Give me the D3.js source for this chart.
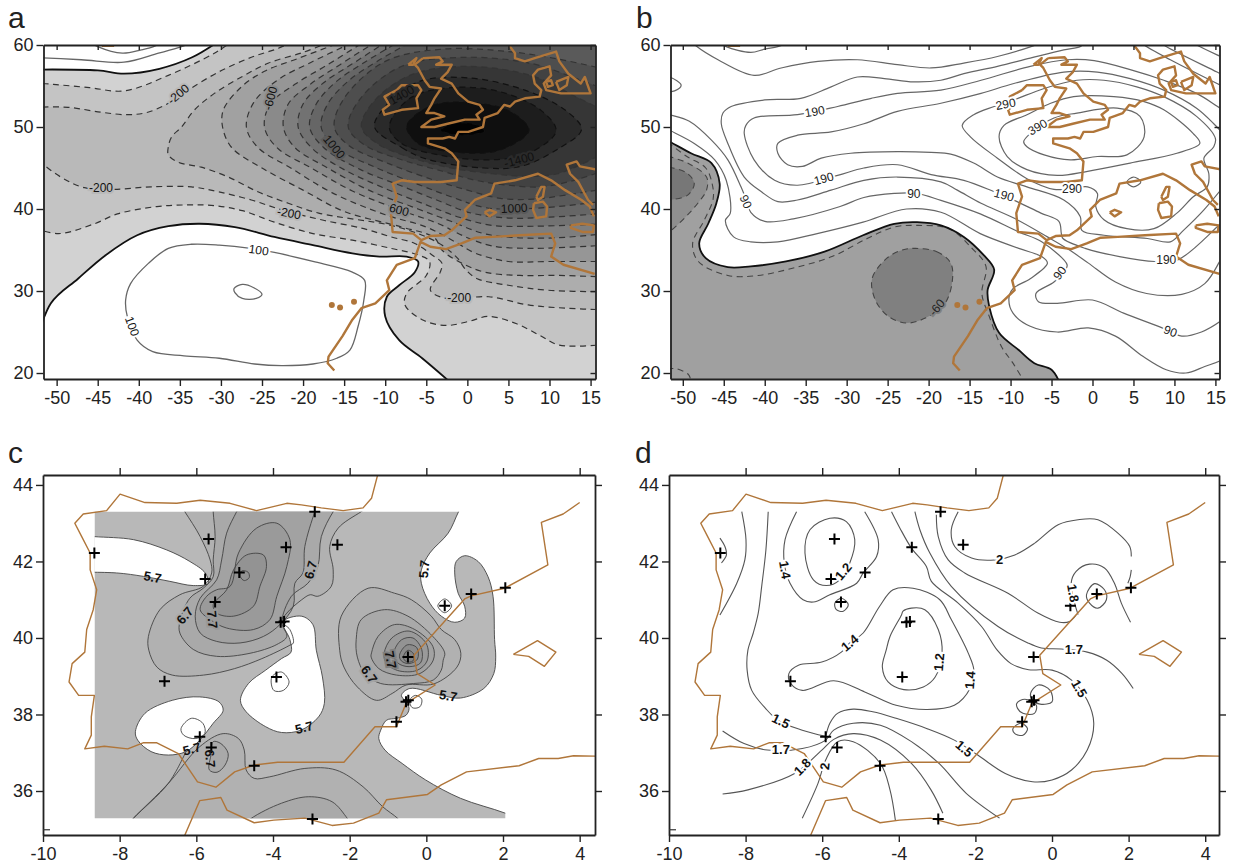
<!DOCTYPE html>
<html>
<head>
<meta charset="utf-8">
<script src="https://cdn.jsdelivr.net/npm/d3@7"></script>
<style>
html, body { margin: 0; background: #fff; }
svg text { font-family: "Liberation Sans", Arial, sans-serif; }
</style>
</head>
<body>
<div id="chart"></div>
<script>
// AXIS TICKS
const lonTicksWide = [-50,-45,-40,-35,-30,-25,-20,-15,-10,-5,0,5,10,15];
const latTicksWide = [20,30,40,50,60];
const lonTicksIberia = [-10,-8,-6,-4,-2,0,2,4];
const latTicksIberia = [36,38,40,42,44];

// COASTLINE, WIDE MAPS (LON, LAT)
const coastEurope = [[5.2,60.3],[5.2,59.8],[5.8,59],[5.8,58.4],[7,58],[8.2,58.4],[10.8,59.2],[11.2,58],[12.3,56.5],[13.8,55.3],[14.3,56.1],[15,54.1],[13.5,54.1],[11.4,54.1],[9.6,54.5],[9.3,55.3],[10.2,56.3],[10,57.4],[8.6,57],[8,56.3],[8.2,55.3],[9,54.5],[8.8,53.7],[7,53.5],[5.8,53.1],[5.2,52.5],[4.5,52.7],[3.7,51.7],[2.1,51.1],[1.9,50],[0.1,49.4],[-1.1,49.4],[-1.5,48.6],[-2.2,48.8],[-3,48.6],[-4.8,48.6],[-4.8,48],[-2.8,47.4],[-1.9,46.8],[-1.1,45.8],[-1.3,43.5],[-3.2,43.3],[-6.4,43.3],[-8,43.5],[-9.1,43.1],[-8.6,41.5],[-9.3,39.5],[-9.1,37.2],[-6.6,37],[-5.6,36.2],[-4.5,36.7],[-2.8,36.8],[-1.9,37.4],[-0.1,39.1],[-0.3,39.9],[0.9,41.1],[2.9,41.9],[3.3,43.1],[5.8,43.5],[8.6,44.3],[10.2,43.5],[11.9,42.3],[13.9,41.1],[14.9,40.3],[15.4,39.1]];
const coastBritain = [[-5.4,58.4],[-3.4,58.5],[-3,58],[-3.8,57.6],[-1.9,57.6],[-2.4,56.7],[-3.2,55.9],[-1.9,55.3],[-1.1,54.1],[0.1,53.1],[1.5,52.7],[1.9,52.1],[1.1,51.5],[1.5,50.9],[-0.3,50.9],[-2.4,50.4],[-4,50],[-5.6,50],[-4.4,50.9],[-2.8,51.3],[-4,51.7],[-5,51.7],[-4.4,52.7],[-4,53.5],[-3.2,54.7],[-4.6,54.9],[-5.2,55.7],[-6,57.2],[-6.4,57.6],[-5.4,58.4]];
const coastHebrides = [[-7.2,57.6],[-6.2,58.4],[-6.6,57.6],[-7.2,57.6]];
const coastIreland = [[-8.6,54.5],[-8,55.1],[-6,55.1],[-5.6,54.5],[-6.2,53.5],[-6,52.3],[-8,52.1],[-10.1,51.5],[-10.3,52.1],[-9.5,52.7],[-10.1,53.7],[-8.6,54.5]];
const coastAfrica = [[-16.2,20.3],[-17,21.2],[-16.9,22],[-15.2,24.5],[-14,26.5],[-12.9,27.9],[-11.2,28.5],[-9.5,30.1],[-9.8,31.3],[-8.6,33.2],[-6.4,34],[-5.7,36],[-4.5,35.4],[-2.6,35.1],[-0.7,35.8],[1,36.5],[3.1,36.6],[6.4,36.8],[10.2,37],[10.7,35.8],[10.2,34.2],[11.7,33.2],[15.5,32.1]];
const coastAdriatic = [[15.8,44.8],[13.7,45.2],[13.3,45.8],[12.1,45.4],[12.5,44.3],[13.5,43.3],[14.7,41.1],[15.3,40.5]];
const coastSicily = [[12.6,38],[14,38.2],[15.4,38],[15.3,37.2],[14,37.2],[12.6,37.7],[12.6,38]];
const coastCorsica = [[8.4,41.5],[9,42.7],[9.4,42.7],[9.2,41.5],[8.6,41.1],[8.4,41.5]];
const coastSardinia = [[8.1,40.7],[9.2,40.9],[9.7,40.3],[9.6,39.1],[8.4,38.9],[8,39.9],[8.1,40.7]];
const coastMallorca = [[2.1,39.6],[2.7,39.9],[3.5,39.6],[2.7,39.1],[2.1,39.6]];
const coastZealand = [[10.8,55.5],[12.3,56.1],[12.1,55.1],[11.2,54.5],[10.8,55.5]];
const coastFunen = [[9.6,55.5],[10.2,55.7],[10.4,55.1],[9.8,54.9],[9.6,55.5]];
const coastGreenland = [[-44.5,59.9],[-43,59.9]];
const coastCanaries = [[-16.5,28.3],[-15.5,28],[-13.8,28.7]];

// COASTLINE, IBERIA MAPS (LON, LAT)
const coastIberia = [[-1.26,44.3],[-1.43,43.65],[-1.65,43.4],[-2.17,43.33],[-2.74,43.4],[-3.26,43.48],[-3.64,43.52],[-4.43,43.33],[-5.12,43.52],[-5.9,43.6],[-6.51,43.52],[-7.34,43.54],[-7.99,43.76],[-8.34,43.33],[-8.95,43.24],[-9.17,43],[-8.99,42.65],[-8.77,42.22],[-8.77,41.78],[-8.6,41.26],[-8.69,40.74],[-8.86,40.22],[-8.91,39.63],[-9.24,39.33],[-9.32,38.85],[-9.07,38.5],[-8.66,38.5],[-8.74,37.94],[-8.74,37.46],[-8.91,37.1],[-8.4,37.17],[-7.79,37.1],[-7.39,37.26],[-7.03,37.26],[-6.47,36.98],[-5.97,36.24],[-5.49,36.1],[-5,36.5],[-4.49,36.68],[-3.88,36.75],[-2.15,36.75],[-1.34,37.68],[-0.78,37.68],[-0.53,38.29],[0.23,38.77],[-0.24,39.07],[-0.32,39.55],[1,41.02],[1.17,41.1],[2.04,41.3],[3.17,41.91],[3,43.02],[3.57,43.24],[4,43.54]];
const coastMaghreb = [[-6.32,34.8],[-5.91,35.75],[-5.36,35.83],[-5.2,35.5],[-4.49,35.17],[-3.98,35.24],[-3.17,35.29],[-2.46,35.1],[-1.9,35.16],[-1.24,35.42],[-1.04,35.77],[0.03,35.91],[0.39,36.16],[1.05,36.5],[2.42,36.66],[2.93,36.85],[3.44,36.85],[3.84,36.92],[4.5,36.91]];
const coastBalearic = [[2.27,39.57],[2.67,39.52],[3.08,39.26],[3.38,39.63],[2.9,39.93],[2.27,39.57]];

// STATIONS (LON, LAT)
const stations = [[-8.66,42.22],[-5.68,42.59],[-5.77,41.54],[-3.66,42.37],[-4.88,41.71],[-5.51,40.94],[-3.8,40.41],[-3.71,40.43],[-2.91,43.3],[-2.32,42.44],[1.17,41.15],[2.06,41.31],[0.48,40.84],[-0.48,39.5],[-3.91,38.98],[-6.83,38.87],[-0.53,38.33],[-0.47,38.37],[-0.78,37.81],[-5.91,37.42],[-5.61,37.14],[-4.49,36.66],[-2.97,35.27]];

// PANEL A CONTOURS
const a0Up = [[-53,57],[-45,56.9],[-41.8,56.5],[-37.5,57.1],[-33.5,58.5],[-30.5,60.3]];
const a0Low = [[-2,18.8],[-5.5,21.8],[-8.3,24],[-10,26.9],[-9.8,29.3],[-8.3,30.7],[-6.4,32.3],[-6,33.6],[-7.4,34.2],[-10.7,34.2],[-14,34.6],[-18.8,35.6],[-23.5,36.6],[-28.3,37.8],[-32.6,38.2],[-36.4,37.9],[-40.2,36.8],[-44,34.4],[-47.4,31.5],[-50.7,28.5],[-53,22]];
const aPosTop1 = [[-53,58.5],[-47,58.2],[-41.8,57.9],[-37.6,59],[-34.8,59.8],[-33,60.5]];
const aPosTop2 = [[-46,60.4],[-45,59.8],[-42,59],[-39.7,59.4],[-38.2,59.8],[-37,60.4]];
const a100Low = [[17,23.5],[11.2,23.4],[8.8,24.6],[6,26],[2.6,26.9],[0.2,26.3],[-2.6,25.8],[-5.5,26.5],[-7.6,28.3],[-7.4,29.7],[-5,31.9],[-4.6,33.6],[-6,34.4],[-9.3,35.2],[-14,36.2],[-18.8,37],[-23.5,38.4],[-27.4,39.8],[-30.7,40.4],[-34,40.5],[-37.8,40.3],[-42.6,39.4],[-45.4,38.2],[-49.8,37],[-53,37.8]];
const a100Up = [[-53,55.4],[-50.4,55.2],[-46,54.8],[-41.8,54.4],[-36.4,56.3],[-30.8,59],[-28.8,60.3]];
const a200Low = [[17,27.7],[12.1,27.9],[7.4,28.3],[2.6,29.3],[-2.6,29.1],[-4.5,30.1],[-3.3,32.3],[-3.1,33.4],[-4.3,34.4],[-6.4,35.8],[-9.3,36.6],[-12.6,37.6],[-17.4,38.6],[-22.3,39.8],[-26.3,41.1],[-30.3,42.1],[-33.6,42.7],[-38.5,42.7],[-43,42.4],[-46.6,42.6],[-49.5,43.9],[-53,46.5]];
const a200Up = [[-53,52.4],[-48.6,52.4],[-44.6,51.8],[-41.3,51.5],[-38.9,51.8],[-36.4,52.9],[-34,54.5],[-30.3,56.7],[-26.3,58.5],[-23,59.6],[-21.5,60.3]];
const a300 = [[17,29.9],[9.8,30.1],[5,30.7],[1.2,31.5],[-0.2,32.6],[-1.2,34],[-3.1,35.6],[-5.5,36.8],[-9.3,38],[-18.1,39.5],[-21.8,40.7],[-25.5,42.1],[-29.1,43.9],[-32.4,45.1],[-35.2,45.7],[-36.4,46.6],[-36.4,47.6],[-36,48.8],[-34.8,50],[-33.2,52.1],[-30.8,54.1],[-27.5,56.1],[-24.2,57.8],[-20,59.1],[-16.9,60.3]];
const a400 = [[17,31.7],[11.2,31.9],[6.4,31.9],[2.1,32.3],[-0.7,33.4],[-3.1,35],[-4,36.5],[-8,37.8],[-15,39.7],[-20,42.3],[-25,45],[-28.7,47.5],[-29.8,50],[-29.7,52.1],[-27.5,54.9],[-24.7,56.8],[-20.5,58.4],[-15.5,60.3]];
const a500 = [[17,33.6],[10,33.6],[5,33.6],[1,34.6],[-1.5,36],[-5,37.8],[-10,39.3],[-16.5,42],[-21.5,45],[-25.5,47.5],[-26.9,50],[-26,53],[-23,55.8],[-19,57.9],[-14,60.3]];
const a600 = [[17,35.6],[8,35.2],[3,35.5],[0,36.5],[-3.5,38.2],[-8,39.8],[-14,42.2],[-19,45],[-23.2,47.5],[-24.7,50],[-24,52.8],[-21,55.2],[-17,57.6],[-12.7,60.3]];
const a700 = [[17,37],[11,36.5],[6,36.5],[2,37],[-2,38.5],[-6,40],[-12,42.3],[-17,45],[-21,47.5],[-22.4,50],[-21.8,52.8],[-19,55.3],[-15.5,57.6],[-11.3,60.3]];
const a800 = [[17,38.2],[8,37.9],[3,38],[-1,39],[-5,40.5],[-10,42.5],[-15,44.8],[-19,47.5],[-20.6,50],[-20,52.8],[-17.5,55.4],[-14,57.7],[-10,60.3]];
const a900 = [[17,39.5],[10,39],[5,38.9],[0.5,39.5],[-3.5,41],[-8,42.8],[-13,44.8],[-17.5,47.5],[-19.2,50],[-18.4,52.8],[-16,55.5],[-12.5,57.9],[-8.5,60.3]];
const a1000 = [[17,41],[11,40.3],[6,40],[2,40.2],[-2,41.5],[-6,43],[-11,45],[-16,47.5],[-17.8,50],[-17,52.8],[-14.5,55.6],[-11,58],[-7,60.3]];
const a1100 = [[17,42.5],[12,41.7],[8,41.2],[4,41.3],[0,42.3],[-4,43.5],[-9.5,45.5],[-14.5,47.8],[-16.2,50],[-15,53.5],[-10,58],[-3,59.5],[5,59.2],[11,58.3],[17,57]];
const a1200 = [[17,44.8],[13,43.5],[9,42.7],[5,42.9],[1,43.5],[-3,44.6],[-8,46],[-12.5,47.8],[-14.5,50],[-13,53.5],[-8,57.4],[0,58.5],[8,57.7],[13,56],[17,54.5]];
const a1300 = [[17,47],[11,44.3],[7,44],[3,44.3],[-2,45],[-7,46.3],[-11,48],[-12.9,50],[-11.5,53],[-7,56.3],[0,57.4],[8,56.2],[13,53.8],[17,51.8]];
const a1400 = [[-11.3,50],[-8,47.5],[-5,46.1],[2,45],[6.5,45.2],[11,47.3],[13.9,49.7],[12,52],[7,54.5],[0,56],[-6,55.5],[-10,52.5]];
const a1500 = [[-9.5,50],[-8,48],[-3,46.5],[3,46],[7.5,46.8],[10.8,49.5],[9,52],[4,54.3],[-2,54.8],[-7,53.5]];
const a1600 = [[-7.4,50],[-6,48],[-1,46.9],[4,47.2],[7.5,49.6],[5,52],[0,53],[-4,52.7],[-6.5,51.3]];
const a1700 = [[-3.2,49.6],[-0.5,49],[2.1,49.5],[1,50.3],[-2,50.4]];
const a100Pos = [[-26.4,35.2],[-30.2,35.6],[-33.6,35.7],[-36.4,35.2],[-38.8,33.4],[-41,30.9],[-41.6,28.9],[-41.4,26.9],[-40.2,24],[-38.3,22.6],[-34.5,22.1],[-30.2,21.8],[-25.9,21.1],[-22.6,20.9],[-18.8,21.1],[-15.9,21.8],[-14.3,22.8],[-13.3,25.7],[-12.6,28.9],[-12.5,31.3],[-14,32.3],[-18.8,33.6],[-23.5,34.7]];
const a100Inner = [[-28.4,30.3],[-27.4,30.8],[-26,30.4],[-25,29.6],[-25.7,29.1],[-27.4,29.1],[-28.3,29.8]];
const aLevels = [-100,-200,-300,-400,-500,-600,-700,-800,-900,-1000,-1100,-1200,-1300,-1400,-1500,-1600,-1700];
const labelsA = [["-200",-35.2,54,-40],["-600",-24,53.5,-75],["-200",-44.6,42.6,0],["-200",-21.7,39.5,10],["1000",-16.2,47.6,50],["1400",-8,53.9,-30],["-1400",6.3,46,-15],["600",-8.3,39.9,15],["1000",5.7,40.1,-3],["-200",-1,29.2,0],["100",-25.4,35,8],["100",-40.8,25.7,70]];
const labelLevelsA = [-200,-600,-200,-200,-1000,-1400,-1400,-600,-1000,-200,0,0];

// PANEL B CONTOURS
const b0 = [[-53,48.9],[-51.6,48.2],[-49,46.8],[-46.5,45.6],[-45.5,43.1],[-45.9,40.7],[-46.9,38.2],[-48,35.8],[-47.2,34],[-44.5,32.9],[-41.7,33],[-37.4,33.6],[-32.7,34.8],[-28,36.8],[-24.2,38.2],[-21.4,38.4],[-18.5,38],[-15.7,36.6],[-13.3,34.4],[-12,32.6],[-12.8,30.1],[-12.6,28.1],[-11.4,24.9],[-9,22.8],[-7.1,21.2],[-5,20.4],[-4,18.8]];
const bDash0 = [[-53,48.7],[-51.6,47.9],[-49.5,46.4],[-47.2,45],[-46.4,43],[-46.3,41.2],[-47.4,38.6],[-48.8,35.8],[-48.1,33.6],[-44.5,31.9],[-40.8,31.9],[-36.5,32.8],[-31.8,34.2],[-27.5,36.4],[-24.2,37.8],[-21.3,38],[-17.5,37.6],[-14.7,35.2],[-13,33],[-13.5,29.7],[-12.6,26.9],[-11.1,23.2],[-9.7,21.2],[-8.3,18.9]];
const bCorner1 = [[-53,47],[-51.6,46.4],[-49.4,45.6],[-47.1,43.9],[-47.1,42.3],[-47.9,41.05],[-49.3,39.4],[-51.4,37.4],[-53,36.2]];
const bCorner2 = [[-53,45.2],[-51.2,45],[-49.4,44.3],[-48.6,43.1],[-49.4,41.7],[-51.6,41.1],[-53,41]];
const bCorner3 = [[-51.9,20.5],[-50.7,20.5],[-49.3,19.8],[-49,19]];
const bBlob60 = [[-21.6,35.2],[-19,34.8],[-17.3,33.4],[-17.1,31.3],[-18,28.5],[-20.4,26.7],[-22.7,26.1],[-24.9,26.9],[-26.5,28.9],[-26.9,31.5],[-25.1,34],[-23.2,35]];
const bTop = [[-48.8,60.3],[-48.4,59.9],[-45.7,58.2],[-41.3,56.3],[-38,57.2],[-33.5,58],[-28.7,58.2],[-23.8,57.6],[-19.7,57.2],[-15.7,57.8],[-11.6,58.6],[-7.5,59.8],[-6,60.4]];
const bM1 = [[6,60.3],[6.3,60],[9.5,58.2],[15.2,55.3],[17,54.4]];
const bM1a = [[-1,60.2],[-1.5,59.8],[-3.5,59.4],[-7.6,58.4],[-11.6,57.4],[-15.7,56.5],[-18.5,55.7],[-21.8,55.5],[-25.4,55.9],[-28.7,56.1],[-31.9,54.9],[-35.6,53.5],[-40,53.3],[-44.1,52.5],[-45.1,51.7],[-45.3,50.4],[-44.5,48],[-42.5,43.9],[-40.4,42.1],[-38.4,40.9],[-36,41.1],[-31.9,42.3],[-27.9,43.5],[-23.8,43.9],[-18.5,43.3],[-16.5,42.3],[-13.6,40.7],[-9.6,38.9],[-5.5,36.6],[-2.8,35],[-0.5,33.4],[2.8,31.1],[6.6,29.7],[10.9,29.6],[13.7,30.9],[15.4,33.4],[16.5,36]];
const bM2 = [[17,51.5],[15.6,52.3],[12.7,54.1],[8.7,55.7],[4.6,57],[0.2,58.1],[-3.1,58.2],[-7.6,57.4],[-13.6,55.7],[-18.5,54.5],[-23.8,54.1],[-27,53.5],[-31.1,52.5],[-36,51.5],[-41.3,51.1],[-42.3,50.2],[-42.5,49.2],[-41.3,46],[-38.8,43.5],[-36,42.9],[-31.1,44.1],[-27.9,45],[-23.8,45.4],[-19.7,44.2],[-15.7,43.5],[-12,42.1],[-9.2,40.9],[-6.3,39.5],[-4.1,38.5],[-3.8,37],[-3.6,36.4],[-0.9,35.2],[3.3,34.2],[7.6,33.6],[10.4,33.8],[15.2,37.8],[17,39.5]];
const bM3 = [[17,48],[14.8,50.4],[12.7,52.3],[8.7,54.5],[4.6,55.9],[0.6,56.7],[-3.5,56.7],[-9.6,55.3],[-13.6,54.1],[-18.5,52.9],[-23.8,51.9],[-27.9,50.4],[-31.9,49.4],[-36,49],[-38.4,48],[-38.4,46.8],[-37.2,45.4],[-35.4,45.2],[-33.1,46.2],[-29.5,46.8],[-23.8,47],[-19.7,46.9],[-17.3,46.7],[-14.5,45.6],[-11.6,43.9],[-8,42.7],[-3.5,41.1],[-1.5,39.1],[-1.3,37.4],[1.4,36.8],[6.7,36.4],[9.5,36],[11.1,37.4],[13.6,39.9],[17,44]];
const bL1 = [[-53,50.3],[-51.6,49.6],[-48.6,48],[-46.1,46],[-44.7,43.5],[-44.2,39.5],[-44.8,38.6],[-43.8,36.6],[-41.7,36],[-38.4,36],[-33.6,37],[-28,38.4],[-22.7,40],[-18.5,39.6],[-13.7,37],[-9,35.2],[-6.2,34.2],[-5.5,33.4],[-7.6,31.5],[-9.7,30.3],[-10.2,29.1],[-9.7,27.3],[-7.6,25.7],[-4.3,25],[-0.5,25.5],[2.8,24.5],[6.2,22],[9,20.4],[11.4,20],[13.7,20.8],[15.6,21.5],[17,22.5]];
const bL2 = [[-53,51.9],[-51.6,51.5],[-49.2,50.7],[-46.5,48.4],[-44.5,46],[-42.9,42.7],[-42.1,40.7],[-41.7,39.6],[-40,38.5],[-36.5,38.8],[-30.8,40.3],[-27.9,41.4],[-24.2,41.9],[-21.5,41.9],[-18.5,41.05],[-13.7,39.4],[-9,37.2],[-6.2,36],[-3.1,33.2],[-3.3,32.6],[-4.7,31.1],[-6.9,29.7],[-6.6,28.7],[-4.3,28.5],[0,28.9],[3.8,27.3],[8.5,25.5],[10.9,24.5],[13.3,25],[15.6,26.3],[17,27.5]];
const bLoopC = [[-15.9,50.2],[-14.5,51.5],[-12,52.5],[-9.6,53.3],[-5.9,54.7],[-1.9,55.7],[1.4,55.7],[5.4,54.9],[8.7,53.7],[12.7,51.3],[15,48.6],[14.8,47.6],[13.6,46.2],[14.2,44.3],[14,42.7],[12.3,41.5],[10.3,39.5],[7.5,37.6],[4.2,37.6],[1.4,38.7],[0.4,40.3],[0.6,41.9],[-0.6,42.7],[-2.5,42.5],[-4.7,42.4],[-8,43.7],[-11.6,46.2],[-14.9,48.8]];
const bLoopB = [[-11.4,48.8],[-10.8,50.2],[-8,51.5],[-5.1,52.9],[-2.3,53.7],[2.6,53.7],[6.3,53.1],[8.7,52.1],[12.3,49.2],[13.1,48],[10.3,46.8],[4.6,45.6],[-0.6,44.6],[-4.3,44.1],[-8,44.8],[-10.4,46.4]];
const bLoopA = [[-8.4,48.2],[-7.6,49.2],[-4.7,51.1],[-1.9,51.7],[3,52.3],[5.8,51.3],[6.3,48.8],[4.2,46.6],[0.6,46.4],[-2.7,46],[-5.9,46.6],[-8,47.6]];
const bLoopSmall = [[4.2,43.3],[5,43.9],[5.9,43.3],[5,42.7]];
const bEdgeLoop = [[-53,56.3],[-51.6,56.1],[-50.2,55.1],[-51,54.4],[-53,54.3]];
const bTopBit = [[-45.5,60.3],[-44.7,59.8],[-41.7,59.1],[-40,59.5],[-38.4,59.8],[-37,60.3]];
const bRight1 = [[8.4,60.3],[8.7,60],[15.2,56.7],[17,55.8]];
const bRight2 = [[12.2,60.3],[12.7,60],[15.2,58.8],[17,58]];
const labelsB = [["190",-33.9,51.9,-10],["190",-32.8,43.7,-15],["90",-42.3,40.9,65],["90",-21.8,41.8,0],["290",-10.6,52.8,-10],["390",-6.7,50,-30],["290",-2.5,42.5,0],["190",-10.8,41.7,15],["190",9,33.8,0],["90",-4,32.2,-55],["90",9.5,25.1,20],["-60",-19,28,-50]];

// PANEL C CONTOURS
const cOuter = [[1.05,43.7],[0.84,43.3],[0.57,42.74],[0.09,42.22],[-0.13,41.78],[-0.13,41.43],[0.09,40.91],[0.39,40.57],[0.74,40.41],[1,40.52],[1,40.83],[0.83,41.17],[0.74,41.7],[0.78,42],[1,42.15],[1.35,42],[1.61,41.6],[1.74,41.09],[1.78,39.96],[1.81,39.5],[1.76,39.07],[1.5,38.68],[0.89,38.43],[0.39,38.5],[-0.43,38.68],[-0.65,38.5],[-0.53,38.33],[-0.45,38.16],[-0.53,37.98],[-0.78,37.9],[-1.04,37.85],[-1.19,37.59],[-1.24,37.37],[-1.08,37.07],[-0.63,36.72],[-0.02,36.29],[0.89,35.81],[2.06,35.42],[2.8,35.1]];
const cHoleNorth = [[-9.2,42.7],[-8.66,42.65],[-7.64,42.57],[-6.77,42.3],[-6.17,42],[-5.77,41.7],[-5.69,41.43],[-6.08,41.37],[-6.69,41.48],[-7.38,41.61],[-8.08,41.7],[-9.2,41.72]];
const cHoleCentre = [[-3.74,40.42],[-3.26,40.57],[-2.96,40.35],[-2.87,39.68],[-2.71,38.98],[-2.66,38.29],[-2.81,37.94],[-3.27,37.59],[-3.78,37.53],[-4.19,37.68],[-4.7,38.07],[-4.85,38.37],[-4.64,38.81],[-4.19,39.16],[-3.78,39.46],[-3.53,39.63],[-3.56,39.96]];
const cHoleSouth = [[-7.59,37.55],[-7.34,38.03],[-6.63,38.37],[-5.91,38.46],[-5.41,38.33],[-5.3,38.11],[-5.56,37.77],[-5.91,37.33],[-6.27,37.03],[-6.73,36.94],[-7.18,37.03],[-7.53,37.33]];
const cDiagonal = [[-6.27,37.03],[-6.73,36.2],[-7.64,35.29],[-8,34.9]];
const cA1 = [[-6.5,43.6],[-6.3,43.3],[-5.9,42.65],[-5.64,42.04],[-5.6,41.7],[-5.82,41.35],[-6.43,41.13],[-6.95,40.74],[-7.25,40.04],[-7.24,39.68],[-7.03,39.24],[-6.63,39.03],[-5.81,39.03],[-5,39.2],[-4.29,39.46],[-3.58,39.8],[-3.47,39.87],[-3.56,40.22],[-3.77,40.43],[-3.64,40.65],[-3.25,41],[-3.03,41.13],[-2.83,41.09],[-2.48,41.35],[-2.43,41.78],[-2.52,42.39],[-2.3,42.87],[-1.7,43.3],[-1.2,43.6]];
const cA2 = [[-5.56,43.6],[-5.56,43.3],[-5.51,42.65],[-5.56,42.04],[-5.56,41.6],[-5.82,41.3],[-6.17,41.04],[-6.43,40.43],[-6.43,40.13],[-6.08,39.7],[-5.47,39.52],[-4.6,39.6],[-3.9,39.83],[-3.64,40.04],[-3.77,40.4],[-3.52,41.09],[-3.09,41.43],[-2.83,41.87],[-2.74,42.65],[-2.43,43.3],[-2.2,43.6]];
const cA3 = [[-4.8,43.6],[-4.95,43.3],[-5.21,42.74],[-5.34,42.04],[-5.47,41.52],[-5.9,41.04],[-6.03,40.57],[-5.9,40.13],[-5.47,39.91],[-4.86,39.87],[-4.25,40.04],[-3.82,40.35],[-3.47,40.83],[-3.43,41.43],[-3.22,41.7],[-3.17,42.39],[-2.91,43.3],[-2.8,43.6]];
const cA4 = [[-5.12,41.35],[-4.9,42.22],[-4.43,42.87],[-3.9,43],[-3.56,42.57],[-3.64,41.87],[-3.9,41.09],[-4.08,40.48],[-4.51,40.22],[-5.21,40.26],[-5.64,40.48],[-5.9,40.74],[-5.73,41.09],[-5.47,41.26]];
const cA5 = [[-4.69,42.17],[-4.25,42.17],[-4.17,41.87],[-4.34,41.35],[-4.51,40.83],[-5.03,40.57],[-5.47,40.65],[-5.56,40.87],[-5.21,41.26],[-5.03,41.78]];
const cA6 = [[-4.82,41.75],[-4.65,41.72],[-4.62,41.58],[-4.75,41.5],[-4.85,41.6]];
const cB1 = [[-1.52,41.3],[-2.22,40.57],[-2.26,39.68],[-2.15,39.24],[-1.8,38.72],[-1.3,38.37],[-0.89,38.55],[-0.53,38.77],[0.2,38.8],[0.8,39.24],[0.9,39.6],[0.74,39.96],[0.39,40.22],[0.13,40.57],[-0.39,41],[-0.83,41.17]];
const cB2 = [[-1.83,39.96],[-1.7,40.48],[-1.09,40.74],[-0.48,40.57],[0.17,40.04],[0.48,39.61],[0.44,39.42],[0.39,39.16],[0.18,38.9],[-0.33,38.81],[-1.19,38.81],[-1.6,39.07],[-1.8,39.5]];
const cB3 = [[-1.43,39.61],[-1.26,40.04],[-0.83,40.35],[-0.3,40.22],[0.17,39.78],[0.18,39.42],[-0.17,39.07],[-0.78,39.03],[-1.24,39.2],[-1.44,39.5]];
const cB4 = [[-1.1,39.6],[-0.9,40],[-0.45,40.18],[0,39.85],[0.02,39.4],[-0.25,39.15],[-0.75,39.15],[-1.05,39.35]];
const cB5 = [[-0.85,39.6],[-0.65,39.95],[-0.35,40],[-0.12,39.7],[-0.15,39.35],[-0.45,39.25],[-0.75,39.35]];
const cB6 = [[-0.7,39.55],[-0.5,39.82],[-0.25,39.75],[-0.23,39.45],[-0.45,39.33],[-0.65,39.4]];
const cB7 = [[-0.6,39.5],[-0.48,39.68],[-0.33,39.58],[-0.35,39.4],[-0.52,39.38]];
const cSouth1 = [[-8,34.9],[-7.64,35.29],[-6.73,36.2],[-5.91,37.16],[-5.3,37.5],[-4.9,37.37],[-4.75,37.07],[-4.7,36.55],[-4.49,36.33],[-4.09,36.37],[-3.17,36.59],[-2.36,36.55],[-1.65,36.11],[-1.14,35.59],[-0.73,35.27],[-0.4,34.9]];
const cSouth2 = [[-5,34.9],[-4.59,35.27],[-3.78,35.68],[-3.07,35.85],[-2.46,35.72],[-2.05,35.27],[-1.8,34.9]];
const cSouth3 = [[-5.56,37.29],[-5.36,37.24],[-5.17,36.98],[-5.25,36.68],[-5.46,36.49],[-5.66,36.55],[-5.61,36.98]];
const cRingSouth = [[-6.4,37.63],[-6.13,37.9],[-5.83,37.77],[-5.78,37.5],[-6.03,37.37],[-6.33,37.46]];
const cRingCentre = [[-4.03,38.98],[-3.78,39.11],[-3.58,38.85],[-3.73,38.63],[-3.98,38.63]];
const cRingEast = [[0.3,40.84],[0.48,41.02],[0.66,40.84],[0.48,40.66]];
const cRingCoast = [[-0.43,38.38],[-0.28,38.5],[-0.12,38.4],[-0.17,38.2],[-0.37,38.18]];
const labelsC = [["5.7",-7.14,41.59,10],["6.7",-6.3,40.59,-50],["7.7",-5.58,40.48,85],["6.7",-3.02,41.78,-75],["5.7",-0.06,41.8,-85],["6.7",-1.49,39.05,55],["7.7",-0.93,39.43,80],["5.7",-3.19,37.66,-15],["5.7",0.57,38.49,10],["5.7",-6.12,37.1,-15],["6.7",-5.64,36.85,85]];

// PANEL D CONTOURS
const dWest1 = [[-8.67,42.61],[-8.54,42.39],[-8.5,42.17],[-8.63,41.96]];
const dWest2 = [[-8.1,43.3],[-7.99,42.57],[-8.02,42.04],[-8.23,41.43],[-8.67,40.6]];
const dWest3 = [[-7.41,43.3],[-7.47,42.3],[-7.58,41.35],[-7.67,40.65],[-7.8,40.13],[-7.94,39.68],[-7.96,39.16],[-7.84,38.63],[-7.48,38.16],[-7.13,37.83],[-6.52,37.59],[-5.91,37.43]];
const dNorth14 = [[-6.67,43.3],[-6.97,42.57],[-6.99,41.96],[-6.84,41.43],[-6.5,41],[-6.23,40.94],[-5.8,41.13],[-5.1,41.43],[-4.93,41.7],[-4.58,42.13],[-4.54,42.57],[-4.89,43.3]];
const dNorth12 = [[-5.8,43.13],[-5.37,43.04],[-5.15,42.57],[-5.28,41.96],[-5.54,41.52],[-5.89,41.37],[-6.23,41.52],[-6.45,42.22],[-6.32,42.83]];
const dRingNorth = [[-5.67,40.91],[-5.5,41.04],[-5.32,40.87],[-5.45,40.7],[-5.63,40.74]];
const dCentre12 = [[-3.89,40.7],[-3.67,40.78],[-3.32,40.74],[-2.97,40.22],[-2.87,39.6],[-3.05,38.98],[-3.36,38.72],[-3.87,38.65],[-4.28,38.85],[-4.43,39.24],[-4.33,39.68],[-4.23,40.04],[-3.93,40.6]];
const dCentre14 = [[-6.87,39.07],[-6.62,39.29],[-6.01,39.37],[-5.5,39.63],[-5.28,39.87],[-4.93,40.13],[-4.5,40.83],[-4.15,41.26],[-3.63,41.3],[-2.93,41],[-2.63,40.48],[-2.19,39.61],[-2.04,39.16],[-2.14,38.68],[-2.55,38.24],[-3.26,38.13],[-4.07,38.24],[-4.89,38.59],[-5.7,38.88],[-6.52,38.63],[-6.82,38.81]];
const dLineA = [[-3.02,43.22],[-2.97,42.65],[-2.71,42.04],[-2.28,41.7],[-1.15,41.17],[-0.37,40.65],[0.2,40.41],[0.46,40.43],[0.63,40.6]];
const dLineB = [[-3.58,43.3],[-3.45,42.83],[-3.19,42.22],[-2.63,41.35],[-1.41,40.3],[-0.63,39.87],[-0.28,39.74],[0.24,39.71],[0.92,39.63],[1.43,39.42],[1.83,39.07],[2.12,38.68]];
const dLineC = [[-4.19,43.3],[-3.97,42.87],[-3.67,42.35],[-3.28,41.87],[-3.15,41.48],[-2.45,40.91],[-1.84,40.3],[-1.43,39.68],[-1.07,39.33],[-0.61,39.17],[0,39.16],[0.51,38.9],[0.92,38.37],[1.09,37.77],[0.92,37.07],[0.51,36.55],[0,36.29],[-0.51,36.24],[-1.22,36.46],[-1.94,36.94],[-2.55,37.33],[-3.26,37.63],[-4.07,37.9],[-4.68,38.07],[-5.19,38.14],[-5.6,38.03],[-5.8,37.77],[-5.91,37.42]];
const dSouth17 = [[-8.6,37.57],[-8.04,37.24],[-7.43,37.07],[-6.52,37.11],[-5.91,37.33],[-5.7,37.59],[-5.19,37.77],[-4.48,37.72],[-3.67,37.29],[-2.95,36.72],[-2.24,35.94],[-1.37,35.29]];
const dSouth18 = [[-8.6,35.92],[-7.94,36.03],[-6.72,36.46],[-6.01,37.07],[-5.7,37.35],[-5.19,37.5],[-4.48,37.33],[-3.67,36.72],[-3.16,36.03],[-2.85,35.42]];
const dSouth2 = [[-6.52,35.29],[-6.11,36.2],[-5.91,36.81],[-5.6,37.29],[-5.19,37.29],[-4.48,36.72],[-4.23,36.03],[-4.09,35.24]];
const dEast2 = [[-2.45,43.3],[-2.63,42.83],[-2.54,42.39],[-2.1,42.09],[-1.5,42.04],[-0.97,42.17],[-0.45,42.48],[0.16,42.96],[0.68,43.09],[1.2,43.09],[1.72,42.74],[2.03,42.39],[2.07,42.13]];
const dEast2b = [[2.07,41.78],[2.04,41.6],[1.98,41.43]];
const dEast18 = [[0.68,40.61],[0.5,41.43],[0.63,41.74],[0.98,41.93],[1.37,41.83],[1.63,41.43],[1.81,40.91],[2.05,40.41]];
const dRingEast = [[0.9,41.13],[1.11,41.42],[1.37,41.26],[1.42,41],[1.2,40.78],[0.98,40.91]];
const dPetalA = [[-0.56,38.55],[-0.36,38.77],[-0.05,38.63],[0,38.33],[-0.31,38.27],[-0.51,38.37]];
const dPetalB = [[-0.92,38.29],[-0.71,38.4],[-0.41,38.24],[-0.46,38.03],[-0.76,38.03],[-0.9,38.16]];
const dPetalC = [[-1.02,37.63],[-0.81,37.77],[-0.64,37.63],[-0.76,37.46],[-0.97,37.5]];
const labelsD = [["1.4",-6.97,41.78,80],["1.2",-5.45,41.74,-50],["1.4",-5.28,39.87,-40],["2",-1.37,42.06,0],["1.8",0.55,41.17,80],["1.7",0.57,39.7,0],["1.2",-2.95,39.37,-85],["1.4",-2.14,38.9,-85],["1.5",0.71,38.68,60],["1.5",-7.08,37.83,25],["1.7",-7.08,37.09,0],["1.8",-6.52,36.63,-45],["2",-5.93,36.65,-85],["1.5",-2.29,37.11,40]];

// PANEL LAYOUT
const panels = {
   a: { left: 43.5, right: 595.5, top: 45, bottom: 379, lon: [-51.6, 15.6], lat: [19.27, 60] },
   b: { left: 670.5, right: 1219.5, top: 45, bottom: 379, lon: [-51.5, 15.5], lat: [19.27, 60] },
   c: { left: 43, right: 595, top: 475, bottom: 835, lon: [-10, 4.4], lat: [34.85, 44.26] },
   d: { left: 669, right: 1219, top: 475, bottom: 835, lon: [-10, 4.36], lat: [34.85, 44.26] }
};

const svg = d3.select('#chart').append('svg')
   .attr('width', 1238)
   .attr('height', 866);

// GENERATE SCALES, CLIP AND GROUP FOR A PANEL
function makePanel(id) {
   const p = panels[id];
   const x = d3.scaleLinear().domain(p.lon).range([p.left, p.right]);
   const y = d3.scaleLinear().domain(p.lat).range([p.bottom, p.top]);
   svg.append('clipPath').attr('id', 'clip-' + id)
      .append('rect')
      .attr('x', p.left).attr('y', p.top)
      .attr('width', p.right - p.left).attr('height', p.bottom - p.top);
   const g = svg.append('g').attr('clip-path', 'url(#clip-' + id + ')');
   const open = d3.line().x(d => x(d[0])).y(d => y(d[1])).curve(d3.curveCatmullRom.alpha(0.5));
   const loop = d3.line().x(d => x(d[0])).y(d => y(d[1])).curve(d3.curveCatmullRomClosed.alpha(0.5));
   const straight = d3.line().x(d => x(d[0])).y(d => y(d[1]));
   return { p, x, y, g, open, loop, straight };
}

// JOIN OPEN CONTOURS AND OFF-MAP CORNERS INTO ONE FILLED SHAPE
function shape(m, parts, corners) {
   var d = parts.map((part, i) => i == 0 ? m.open(part) : m.open(part).replace(/^M/, 'L')).join('');
   (corners || []).forEach(c => { d += 'L' + m.x(c[0]) + ',' + m.y(c[1]); });
   return d + 'Z';
}

function fillPath(g, d, color) {
   return g.append('path').attr('d', d).attr('fill', color).attr('stroke', 'none');
}

function strokePath(g, d, color, width, dash) {
   return g.append('path').attr('d', d)
      .attr('fill', 'none')
      .attr('stroke', color)
      .attr('stroke-width', width)
      .attr('stroke-dasharray', dash || null);
}

// DRAW CONTOUR LABELS, HALO BREAKS THE LINE BEHIND THE TEXT
function drawLabels(m, rows, halos, size, weight, color) {
   m.g.selectAll('text.lab').data(rows).enter().append('text')
      .attr('class', 'lab')
      .attr('transform', d => 'translate(' + m.x(d[1]) + ',' + m.y(d[2]) + ') rotate(' + d[3] + ')')
      .attr('text-anchor', 'middle')
      .attr('dy', '0.35em')
      .attr('font-size', size)
      .attr('font-weight', weight)
      .attr('fill', color)
      .attr('stroke', (d, i) => halos[i])
      .attr('stroke-width', 4)
      .attr('paint-order', 'stroke')
      .text(d => d[0]);
}

// DRAW THE FRAME, TICKS AND TICK LABELS
function drawAxes(m, lonTicks, latTicks, opts) {
   const p = m.p;
   const plain = d => String(d);
   const none = () => '';
   const axes = svg.append('g');
   const style = sel => {
      sel.selectAll('path.domain').attr('stroke', '#222').attr('stroke-width', 1.8);
      sel.selectAll('line').attr('stroke', '#222').attr('stroke-width', 1.4);
      sel.selectAll('text').attr('font-size', 18).attr('fill', '#222').style('font-family', '"Liberation Sans", Arial, sans-serif');
   };
   axes.append('g').attr('transform', 'translate(0,' + p.bottom + ')')
      .call(d3.axisBottom(m.x).tickValues(lonTicks).tickSize(7).tickSizeOuter(0).tickPadding(5).tickFormat(plain)).call(style);
   axes.append('g').attr('transform', 'translate(' + p.left + ',0)')
      .call(d3.axisLeft(m.y).tickValues(latTicks).tickSize(7).tickSizeOuter(0).tickPadding(3).tickFormat(plain)).call(style);
   axes.append('g').attr('transform', 'translate(0,' + p.top + ')')
      .call(d3.axisTop(m.x).tickValues(opts.topTicks).tickSize(opts.frameTick).tickSizeOuter(0).tickFormat(none)).call(style);
   axes.append('g').attr('transform', 'translate(' + p.right + ',0)')
      .call(d3.axisRight(m.y).tickValues(latTicks).tickSize(opts.frameTick).tickSizeOuter(0).tickFormat(none)).call(style);
}

function drawCoast(m, lines, closedBlobs, width) {
   lines.forEach(line => {
      strokePath(m.g, m.straight(line), '#b0763a', width).attr('stroke-linejoin', 'round');
   });
   m.g.selectAll('circle.isle').data(closedBlobs).enter().append('circle')
      .attr('class', 'isle')
      .attr('cx', d => m.x(d[0]))
      .attr('cy', d => m.y(d[1]))
      .attr('r', 3)
      .attr('fill', '#b0763a');
}

function drawStations(m) {
   m.g.selectAll('path.station').data(stations).enter().append('path')
      .attr('class', 'station')
      .attr('transform', d => 'translate(' + m.x(d[0]) + ',' + m.y(d[1]) + ')')
      .attr('d', 'M-5.5,0H5.5M0,-5.5V5.5')
      .attr('fill', 'none')
      .attr('stroke', '#000')
      .attr('stroke-width', 2);
}

function letter(text, x, y) {
   svg.append('text').attr('x', x).attr('y', y)
      .attr('font-size', 30).attr('fill', '#222').text(text);
}

const wideCoast = [coastEurope, coastBritain, coastHebrides, coastIreland, coastAfrica, coastAdriatic, coastSicily, coastCorsica, coastSardinia, coastMallorca, coastZealand, coastFunen, coastGreenland];
const iberiaCoast = [coastIberia, coastMaghreb, coastBalearic];

// PANEL A
function panelA() {
   const m = makePanel('a');
   const grey = d3.scaleLinear()
      .domain([0, -100, -300, -600, -1000, -1400, -1600, -1700])
      .range(['#d2d2d2', '#c4c4c4', '#adadad', '#8a8a8a', '#5a5a5a', '#2a2a2a', '#0f0f0f', '#030303']);
   const offMap = [[18, 62]];

   fillPath(m.g, shape(m, [a0Up], [[18, 62], [18, 17]]).replace(/Z$/, '') + m.open(a0Low).replace(/^M/, 'L') + 'Z', '#d2d2d2');

   const bands = [
      [a100Low, a100Up], [a200Low, a200Up], [a300], [a400], [a500], [a600], [a700], [a800], [a900], [a1000], [a1100], [a1200], [a1300]
   ];
   bands.forEach((parts, i) => {
      fillPath(m.g, shape(m, parts, i < 10 ? offMap : []), grey(aLevels[i]));
   });
   const loops = [a1400, a1500, a1600, a1700];
   loops.forEach((pts, i) => {
      fillPath(m.g, m.loop(pts), grey(aLevels[13 + i]));
   });

   bands.forEach(parts => parts.forEach(part => {
      strokePath(m.g, m.open(part), '#333', 1.2, '6,4.5');
   }));
   loops.forEach(pts => strokePath(m.g, m.loop(pts), '#111', 1.2, '6,4.5'));

   strokePath(m.g, m.open(a0Up), '#111', 1.8);
   strokePath(m.g, m.open(a0Low), '#111', 1.8);
   strokePath(m.g, m.open(aPosTop1), '#666', 1.3);
   strokePath(m.g, m.open(aPosTop2), '#666', 1.3);
   strokePath(m.g, m.loop(a100Pos), '#666', 1.3);
   strokePath(m.g, m.loop(a100Inner), '#666', 1.3);

   drawCoast(m, wideCoast, coastCanaries, 2.4);
   const halos = labelLevelsA.map(level => level == 0 ? '#fff' : grey(level));
   drawLabels(m, labelsA, halos, 12, 400, '#111');
   drawAxes(m, lonTicksWide, latTicksWide, { topTicks: lonTicksWide, frameTick: -5 });
   letter('a', 8, 28);
}

// PANEL B
function panelB() {
   const m = makePanel('b');
   fillPath(m.g, shape(m, [b0], [[-53, 10]]), '#a0a0a0');
   fillPath(m.g, shape(m, [bCorner1]), '#8f8f8f');
   fillPath(m.g, shape(m, [bCorner2]), '#777');
   fillPath(m.g, m.loop(bBlob60), '#808080');

   strokePath(m.g, m.open(bDash0), '#444', 1.1, '6,4.5');
   strokePath(m.g, m.open(bCorner1), '#444', 1.1, '6,4.5');
   strokePath(m.g, m.open(bCorner2), '#444', 1.1, '6,4.5');
   strokePath(m.g, m.open(bCorner3), '#444', 1.1, '6,4.5');
   strokePath(m.g, m.loop(bBlob60), '#444', 1.1, '6,4.5');
   strokePath(m.g, m.open(b0), '#111', 1.8);

   const lines = [bTop, bM1, bM1a, bM2, bM3, bL1, bL2, bEdgeLoop, bTopBit, bRight1, bRight2];
   lines.forEach(pts => strokePath(m.g, m.open(pts), '#666', 1.2));
   [bLoopC, bLoopB, bLoopA, bLoopSmall].forEach(pts => strokePath(m.g, m.loop(pts), '#666', 1.2));

   drawCoast(m, wideCoast, coastCanaries, 2.4);
   const halos = labelsB.map(d => d[0] == '-60' ? '#808080' : '#fff');
   drawLabels(m, labelsB, halos, 12, 400, '#222');
   drawAxes(m, lonTicksWide, latTicksWide, { topTicks: lonTicksWide, frameTick: -5 });
   letter('b', 636, 28);
}

// PANEL C
function panelC() {
   const m = makePanel('c');
   svg.append('clipPath').attr('id', 'clip-c-data').append('rect')
      .attr('x', m.x(-8.65)).attr('y', m.y(43.3))
      .attr('width', m.x(2.06) - m.x(-8.65)).attr('height', m.y(35.29) - m.y(43.3));
   const field = m.g.append('g').attr('clip-path', 'url(#clip-c-data)');
   const shade = d3.scaleLinear().domain([0, 8]).range(['#b8b8b8', '#7c7c7c']);

   fillPath(field, shape(m, [cOuter], [[3, 34.5], [-9.5, 34.5], [-9.5, 44]]), shade(0));
   [cA1, cA2, cA3].forEach((pts, i) => fillPath(field, shape(m, [pts]), shade(i + 1)));
   [cA4, cA5].forEach((pts, i) => fillPath(field, m.loop(pts), shade(i + 4)));
   fillPath(field, shape(m, [cSouth1]), shade(1));
   fillPath(field, shape(m, [cSouth2]), shade(2));
   fillPath(field, m.loop(cSouth3), shade(2));
   [cB1, cB2, cB3, cB4, cB5, cB6, cB7].forEach((pts, i) => fillPath(field, m.loop(pts), shade(i + 1)));
   [cHoleNorth, cHoleCentre, cHoleSouth].forEach(pts => fillPath(field, pts == cHoleNorth ? shape(m, [pts]) : m.loop(pts), '#fff'));
   fillPath(field, m.loop(cRingEast), '#fff');
   fillPath(field, m.loop(cRingCoast), '#fff');

   strokePath(field, m.open(cOuter), '#444', 0.9);
   strokePath(field, m.open(cHoleNorth), '#444', 0.9);
   [cHoleCentre, cHoleSouth, cRingSouth, cRingCentre, cRingEast, cRingCoast].forEach(pts => strokePath(field, m.loop(pts), '#444', 0.9));
   strokePath(field, m.open(cDiagonal), '#444', 0.9);
   [cA1, cA2, cA3, cSouth1, cSouth2].forEach(pts => strokePath(field, m.open(pts), '#444', 0.9));
   [cA4, cA5, cA6, cB1, cB2, cB3, cB4, cB5, cB6, cB7, cSouth3].forEach(pts => strokePath(field, m.loop(pts), '#444', 0.9));

   drawCoast(m, iberiaCoast, [], 1.4);
   drawStations(m);
   const halos = ['none', '#aaa', '#999', '#aaa', 'none', '#a4a4a4', '#7f7f7f', 'none', 'none', 'none', 'none'];
   drawLabels(m, labelsC, halos, 13, 700, '#111');
   drawAxes(m, lonTicksIberia, latTicksIberia, { topTicks: lonTicksIberia.slice(1), frameTick: 7 });
   strokeTick(m);
   letter('c', 8, 463);
}

// PANEL D
function panelD() {
   const m = makePanel('d');
   [dWest1, dWest2, dWest3, dNorth14, dLineA, dLineB, dLineC, dSouth17, dSouth18, dSouth2, dEast2, dEast2b, dEast18]
      .forEach(pts => strokePath(m.g, m.open(pts), '#555', 1.1));
   [dNorth12, dRingNorth, dCentre12, dCentre14, dRingEast, dPetalA, dPetalB, dPetalC]
      .forEach(pts => strokePath(m.g, m.loop(pts), '#555', 1.1));

   drawCoast(m, iberiaCoast, [], 1.4);
   drawStations(m);
   drawLabels(m, labelsD, labelsD.map(() => '#fff'), 13, 700, '#111');
   drawAxes(m, lonTicksIberia, latTicksIberia, { topTicks: lonTicksIberia.slice(1), frameTick: 7 });
   strokeTick(m);
   letter('d', 635, 463);
}

// SHORT CROSS TICK ON THE LEFT AXIS AT 35N
function strokeTick(m) {
   svg.append('g').attr('transform', 'translate(' + m.p.left + ',0)')
      .call(d3.axisLeft(m.y).tickValues([35]).tickSize(-7).tickSizeOuter(0).tickFormat(() => ''))
      .call(sel => {
         sel.select('path.domain').remove();
         sel.selectAll('line').attr('stroke', '#333').attr('stroke-width', 1.2);
      });
}

panelA();
panelB();
panelC();
panelD();
</script>
</body>
</html>
